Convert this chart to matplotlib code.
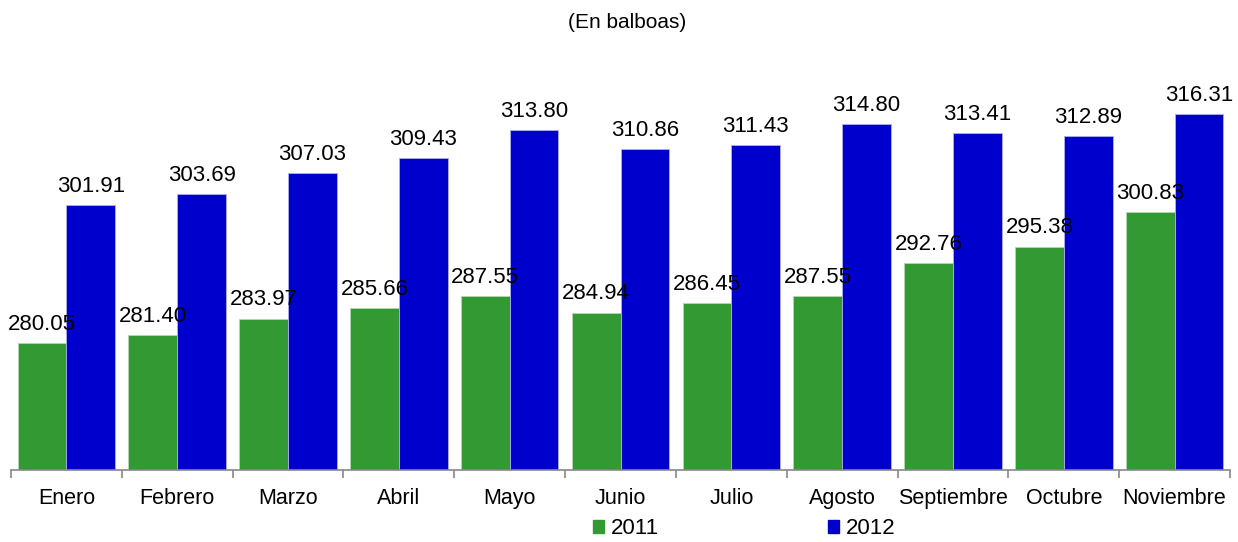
import matplotlib.pyplot as plt
import numpy as np
from matplotlib.patches import Patch

plt.rcParams['font.family'] = ['Liberation Sans', 'DejaVu Sans']

meses = ["Enero", "Febrero", "Marzo", "Abril", "Mayo", "Junio", "Julio",
         "Agosto", "Septiembre", "Octubre", "Noviembre"]
v2011 = [280.05, 281.40, 283.97, 285.66, 287.55, 284.94, 286.45, 287.55,
         292.76, 295.38, 300.83]
v2012 = [301.91, 303.69, 307.03, 309.43, 313.80, 310.86, 311.43, 314.80,
         313.41, 312.89, 316.31]

verde = "#339933"
azul = "#0000CC"

fig = plt.figure(figsize=(12.38, 5.42), dpi=100)
ax = fig.add_axes([11 / 1238, 72 / 542, 1219 / 1238, 1 - 72 / 542 - 28 / 542])

x = np.arange(len(meses))
w = 0.44
ax.bar(x - w / 2, v2011, w, color=verde, edgecolor="#b5d6b5", linewidth=0.6)
ax.bar(x + w / 2, v2012, w, color=azul, edgecolor="#b0b0f0", linewidth=0.6)

for xi, v in zip(x, v2011):
    ax.text(xi - w / 2, v + 1.3, f"{v:.2f}", ha="center", va="bottom", fontsize=16)
for xi, v in zip(x, v2012):
    ax.text(xi + w / 2, v + 1.3, f"{v:.2f}", ha="center", va="bottom", fontsize=16)

ax.set_xlim(-0.5, len(meses) - 0.5)
ax.set_ylim(260, 330)
ax.set_yticks([])
for s in ["top", "right", "left"]:
    ax.spines[s].set_visible(False)
ax.spines["bottom"].set_color("#888888")
ax.spines["bottom"].set_linewidth(1.2)

ax.set_xticks(x)
ax.set_xticklabels(meses, fontsize=15.5)
ax.tick_params(axis="x", length=0, pad=13)
ax.set_xticks(np.arange(len(meses) + 1) - 0.5, minor=True)
ax.tick_params(axis="x", which="minor", length=6, color="#888888", width=1.2)

fig.text(627 / 1238, 1 - 22 / 542, "(En balboas)", ha="center", va="center", fontsize=15)

handles = [Patch(color=verde, label="2011"), Patch(color=azul, label="2012")]
fig.legend(handles=handles, loc="center", bbox_to_anchor=(744 / 1238, 1 - 529 / 542),
           ncol=2, frameon=False, fontsize=16, handlelength=0.5, handleheight=0.5,
           handletextpad=0.3, columnspacing=7.6, borderpad=0.1)

fig.savefig("out.png", dpi=100)
